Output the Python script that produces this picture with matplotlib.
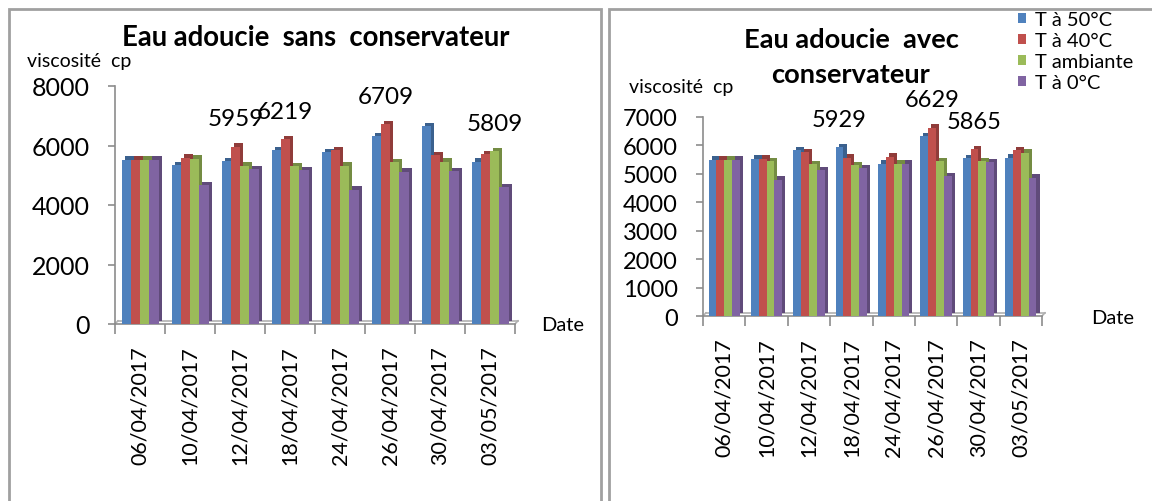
import matplotlib
matplotlib.use("Agg")
import matplotlib.pyplot as plt
from matplotlib import transforms
from matplotlib.patches import Patch, Rectangle, ConnectionPatch
from matplotlib.colors import to_rgb
import numpy as np

# ---- data -------------------------------------------------------------
dates = ["06/04/2017", "10/04/2017", "12/04/2017", "18/04/2017",
         "24/04/2017", "26/04/2017", "30/04/2017", "03/05/2017"]
series_names = ["T à 50°C", "T à 40°C", "T ambiante", "T à 0°C"]
colors = ["#4F81BD", "#C0504D", "#9BBB59", "#8064A2"]

# Eau adoucie sans conservateur (viscosité, cp)
sans_50 = [5520, 5340, 5475, 5840, 5780, 6310, 6640, 5460]
sans_40 = [5520, 5595, 5959, 6219, 5850, 6709, 5680, 5700]
sans_amb = [5520, 5560, 5320, 5300, 5320, 5430, 5460, 5809]
sans_0 = [5520, 4660, 5210, 5180, 4510, 5120, 5130, 4600]

# Eau adoucie avec conservateur (viscosité, cp)
avec_50 = [5500, 5530, 5830, 5929, 5360, 6320, 5550, 5570]
avec_40 = [5500, 5530, 5770, 5570, 5600, 6629, 5865, 5830]
avec_amb = [5500, 5450, 5340, 5300, 5360, 5440, 5440, 5740]
avec_0 = [5500, 4800, 5130, 5210, 5360, 4930, 5420, 4870]

# value labels shown: (date index, series index)
labels_sans = [(2, 1), (3, 1), (5, 1), (7, 2)]
labels_avec = [(3, 0), (5, 1), (6, 1)]

sans_ticks = [0, 2000, 4000, 6000, 8000]
avec_ticks = [0, 1000, 2000, 3000, 4000, 5000, 6000, 7000]

# ---- style ------------------------------------------------------------
FONT = "Lato"
plt.rcParams["font.family"] = [FONT, "DejaVu Sans"]
GREY = "#8C8C8C"

fig = plt.figure(figsize=(11.52, 5.02), dpi=100)
W, H = 1152, 502


def px_box(x0, y0, x1, y1):
    """Figure-fraction rect from pixel corners (y measured from top)."""
    return [x0 / W, 1 - y1 / H, (x1 - x0) / W, (y1 - y0) / H]


def darker(c, f=0.75):
    r, g, b = to_rgb(c)
    return (r * f, g * f, b * f)


# panel frames
for (x0, y0, x1, y1) in [(9, 10, 601, 520), (609, 10, 1170, 520)]:
    fig.patches.append(Rectangle((x0 / W, 1 - y1 / H), (x1 - x0) / W, (y1 - y0) / H,
                                 transform=fig.transFigure, fill=False,
                                 edgecolor="#A0A0A0", linewidth=2, zorder=0))


def draw_panel(ax, series, ticks, tick_fs, date_fs, label_fs, labelled):
    n = len(dates)
    x = np.arange(n)
    bw = 0.185
    depth = transforms.ScaledTranslation(2.2 / 72, 2.4 / 72, fig.dpi_scale_trans)
    for i, vals in enumerate(series):
        pos = x + (i - 1.5) * bw
        ax.bar(pos, vals, bw, color=darker(colors[i]), linewidth=0,
               transform=ax.transData + depth, zorder=2 + 2 * i, clip_on=False)
        ax.bar(pos, vals, bw, color=colors[i], linewidth=0,
               zorder=3 + 2 * i, clip_on=False)

    ax.set_xlim(-0.5, n - 0.5)
    ax.set_ylim(ticks[0], ticks[-1])
    ax.set_yticks(ticks)
    ax.set_yticklabels([str(t) for t in ticks], fontsize=tick_fs)
    ax.set_xticks(x)
    ax.set_xticklabels(dates, rotation=90, fontsize=date_fs)
    ax.set_xticks(np.arange(n + 1) - 0.5, minor=True)
    ax.tick_params(axis="x", which="major", length=0, pad=15)
    ax.tick_params(axis="x", which="minor", length=7, width=1.2, color=GREY)
    ax.tick_params(axis="y", length=5, width=1.2, color=GREY, pad=13)
    for s in ("top", "right"):
        ax.spines[s].set_visible(False)
    for s in ("left", "bottom"):
        ax.spines[s].set_color(GREY)
        ax.spines[s].set_linewidth(1.2)
    ax.patch.set_alpha(0)

    # floor back edge
    ax.plot([-0.5, n - 0.5], [0, 0], color="#B0B0B0", lw=1.2,
            transform=ax.transData + depth, clip_on=False, zorder=1)
    for xe in (-0.5, n - 0.5):
        ax.add_artist(ConnectionPatch((xe, 0), (xe, 0), coordsA=ax.transData,
                                      coordsB=ax.transData + depth,
                                      color="#B0B0B0", lw=1.2, zorder=1))

    for (d, s) in labelled:
        v = series[s][d]
        ax.annotate(str(v), (x[d] + (s - 1.5) * bw, v), xytext=(0, 20),
                    textcoords="offset points", ha="center", va="center",
                    fontsize=label_fs, zorder=20, annotation_clip=False)


ax1 = fig.add_axes(px_box(115, 87, 515, 325))
draw_panel(ax1, [sans_50, sans_40, sans_amb, sans_0], sans_ticks,
           18, 15.5, 17.5, labels_sans)

ax2 = fig.add_axes(px_box(703, 118, 1042, 317))
draw_panel(ax2, [avec_50, avec_40, avec_amb, avec_0], avec_ticks,
           17, 15.5, 17, labels_avec)

# titles and axis captions
fig.text(316 / W, 1 - 38 / H, "Eau adoucie  sans  conservateur", ha="center",
         va="center", fontsize=19.8, fontweight="bold")
fig.text(851 / W, 1 - 40 / H, "Eau adoucie  avec", ha="center",
         va="center", fontsize=19.6, fontweight="bold")
fig.text(850 / W, 1 - 75 / H, "conservateur", ha="center",
         va="center", fontsize=19.6, fontweight="bold")

fig.text(27 / W, 1 - 62 / H, "viscosité  cp", ha="left", va="center", fontsize=14)
fig.text(629 / W, 1 - 88 / H, "viscosité  cp", ha="left", va="center", fontsize=14)
fig.text(541 / W, 1 - 326 / H, "Date", ha="left", va="center", fontsize=14.5)
fig.text(1091 / W, 1 - 318 / H, "Date", ha="left", va="center", fontsize=14.5)

handles = [Patch(facecolor=c, edgecolor="none") for c in colors]
fig.legend(handles, series_names, loc="upper left",
           bbox_to_anchor=(1018 / W, 1 - 12 / H), frameon=False, fontsize=14.5,
           handlelength=0.42, handleheight=0.42, handletextpad=0.4,
           labelspacing=0.2, borderaxespad=0, borderpad=0)

fig.savefig("out.png", dpi=100)
